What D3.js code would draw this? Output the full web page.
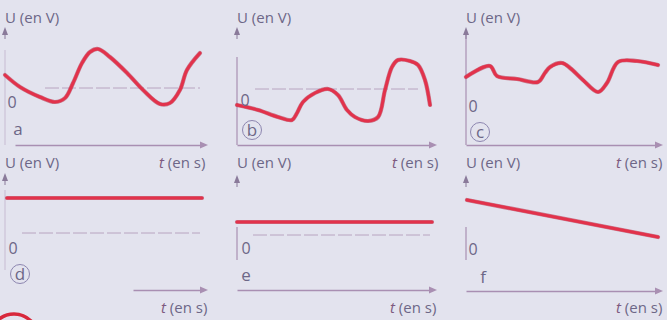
<!DOCTYPE html>
<html><head><meta charset="utf-8">
<script src="https://cdn.jsdelivr.net/npm/d3@7"></script>
<style>html,body{margin:0;padding:0;background:#e3e3ee;}svg{display:block;}</style>
</head><body>
<script>
// ---- data (t in arbitrary units 0..10, U in arbitrary volts) ----
const panelLetters = ["a", "b", "c", "d", "e", "f"];
const circledLetters = ["b", "c", "d"];
const yLabel = "U (en V)";
const xLabelT = "t";
const xLabelRest = " (en s)";
const zeroLabel = "0";

const tA = [0, 0.77, 1.79, 2.56, 3.08, 3.49, 3.95, 4.36, 4.77, 5.38, 6.26, 7.08, 7.95, 8.46, 8.97, 9.33, 10];
const uA = [1.3, 0.1, -0.9, -1.4, -1.0, 0.5, 2.5, 3.6, 3.9, 3.1, 1.5, -0.2, -1.6, -1.5, -0.2, 1.8, 3.5];

const tB = [0, 1.09, 2.12, 2.85, 3.11, 3.42, 4.04, 4.72, 5.23, 5.70, 6.11, 6.79, 7.31, 7.67, 8.03, 8.34, 8.96, 9.38, 9.74, 10];
const uB = [-1.6, -2.1, -2.8, -3.1, -2.4, -1.3, -0.4, 0, -0.6, -2.1, -2.8, -3.2, -2.8, -0.1, 2.2, 2.9, 2.8, 2.4, 0.9, -1.6];

const tC = [0, 1.25, 1.61, 2.66, 3.75, 4.11, 4.38, 5.0, 5.42, 6.09, 6.88, 7.34, 7.92, 8.91, 10];
const uC = [1.5, 2.6, 1.6, 1.3, 1.0, 1.9, 2.5, 2.9, 2.4, 1.2, 0, 0.9, 3.0, 3.1, 2.7];

const tD = [0, 10];
const uD = [3.5, 3.5];

const tE = [0, 10];
const uE = [1.3, 1.3];

const tF = [0, 10];
const uF = [4.0, 0.3];

const series = [[tA, uA], [tB, uB], [tC, uC], [tD, uD], [tE, uE], [tF, uF]];

// ---- layout (styles/positions) ----
const W = 667, H = 320;
const layout = [
  {x0: 5,   x1: 200, zeroY: 88,  axisX: 5,   yTop: 50, yBot: 145, xAxisY: 145, xaStart: 15,  xaEnd: 208, arrowY: 32,  dashFrom: 45,  dashTo: 200, dash: true,  curve: "smooth", ulY: 23,  tlX: 159, tlY: 168, zeroLX: 12,  zeroLY: 108, letX: 18,  letY: 135},
  {x0: 237, x1: 430, zeroY: 89,  axisX: 237, yTop: 57, yBot: 145, xAxisY: 145, xaStart: 237, xaEnd: 437, arrowY: 32,  dashFrom: 255, dashTo: 418, dash: true,  curve: "smooth", ulY: 23,  tlX: 392, tlY: 168, zeroLX: 245, zeroLY: 106, letX: 252, letY: 136},
  {x0: 466, x1: 658, zeroY: 92,  axisX: 466, yTop: 33, yBot: 145, xAxisY: 145, xaStart: 466, xaEnd: 663, arrowY: 32,  dashFrom: 0,   dashTo: 0,   dash: false, curve: "smooth", ulY: 23,  tlX: 616, tlY: 168, zeroLX: 473, zeroLY: 112, letX: 480, letY: 138},
  {x0: 7,   x1: 202, zeroY: 233, axisX: 5,   yTop: 190, yBot: 270, xAxisY: 290, xaStart: 133, xaEnd: 208, arrowY: 178, dashFrom: 22,  dashTo: 200, dash: true,  curve: "linear", ulY: 168, tlX: 161, tlY: 313, zeroLX: 13,  zeroLY: 254, letX: 20,  letY: 280},
  {x0: 237, x1: 432, zeroY: 235, axisX: 237, yTop: 227, yBot: 260, xAxisY: 290, xaStart: 237, xaEnd: 437, arrowY: 180, dashFrom: 253, dashTo: 430, dash: true,  curve: "linear", ulY: 168, tlX: 390, tlY: 313, zeroLX: 246, zeroLY: 254, letX: 246, letY: 281},
  {x0: 467, x1: 658, zeroY: 240, axisX: 466, yTop: 227, yBot: 260, xAxisY: 291, xaStart: 466, xaEnd: 663, arrowY: 180, dashFrom: 0,   dashTo: 0,   dash: false, curve: "linear", ulY: 168, tlX: 616, tlY: 313, zeroLX: 473, zeroLY: 255, letX: 483, letY: 283}
];

const textCol = "#6d6787";
const axisCol = "#a98fb2";
const redCol = "#e2324b";
const font = "'Open Sans', 'Noto Sans', sans-serif";

const svg = d3.select("body").append("svg").attr("width", W).attr("height", H);
svg.append("rect").attr("width", W).attr("height", H).attr("fill", "#e3e3ee");

layout.forEach((L, i) => {
  const [ts, us] = series[i];
  const pts = ts.map((t, k) => [t, us[k]]);
  const xs = d3.scaleLinear().domain([0, 10]).range([L.x0, L.x1]);
  const ys = d3.scaleLinear().domain([0, 1]).range([L.zeroY, L.zeroY - 10]);
  const g = svg.append("g");

  g.append("line").attr("x1", L.axisX).attr("x2", L.axisX).attr("y1", L.yTop).attr("y2", L.yBot)
    .attr("stroke", axisCol).attr("stroke-width", 1.3).attr("opacity", i === 0 || i === 3 ? 0.35 : 0.9);
  g.append("path")
    .attr("d", `M${L.axisX},${L.arrowY - 5} L${L.axisX - 3},${L.arrowY + 3} L${L.axisX + 3},${L.arrowY + 3} Z`)
    .attr("fill", "#8a7a9a");
  g.append("line").attr("x1", L.axisX).attr("x2", L.axisX).attr("y1", L.arrowY).attr("y2", L.arrowY + 7)
    .attr("stroke", "#8a7a9a").attr("stroke-width", 1);

  const xa = d3.scaleLinear().domain([0, 1]).range([L.xaStart, L.xaEnd - 6]);
  const ax = g.append("g").attr("transform", `translate(0,${L.xAxisY})`)
    .call(d3.axisBottom(xa).tickValues([]).tickSizeOuter(0));
  ax.select(".domain").attr("stroke", axisCol).attr("stroke-width", 1.6);
  g.append("path")
    .attr("d", `M${L.xaEnd},${L.xAxisY} L${L.xaEnd - 8},${L.xAxisY - 3.5} L${L.xaEnd - 8},${L.xAxisY + 3.5} Z`)
    .attr("fill", axisCol);

  if (L.dash) {
    g.append("line").attr("x1", L.dashFrom).attr("x2", L.dashTo).attr("y1", L.zeroY).attr("y2", L.zeroY)
      .attr("stroke", "#a88aae").attr("stroke-width", 1).attr("stroke-dasharray", "14,3").attr("opacity", 0.7);
  }

  const line = d3.line().x(d => xs(d[0])).y(d => ys(d[1]))
    .curve(L.curve === "smooth" ? d3.curveCatmullRom.alpha(0.5) : d3.curveLinear);
  g.append("path").datum(pts).attr("d", line).attr("fill", "none")
    .attr("stroke", "#b8304a").attr("stroke-width", 4.2).attr("stroke-linecap", "round").attr("stroke-linejoin", "round").attr("opacity", 0.6);
  g.append("path").datum(pts).attr("d", line).attr("fill", "none")
    .attr("stroke", redCol).attr("stroke-width", 3).attr("stroke-linecap", "round").attr("stroke-linejoin", "round");

  g.append("text").attr("x", L.axisX).attr("y", L.ulY).text(yLabel)
    .attr("font-family", font).attr("font-size", 15).attr("fill", textCol);
  const tl = g.append("text").attr("x", L.tlX).attr("y", L.tlY)
    .attr("font-family", font).attr("font-size", 15).attr("fill", textCol);
  tl.append("tspan").attr("font-style", "italic").attr("fill", "#7e5a80").text(xLabelT);
  tl.append("tspan").text(xLabelRest);

  g.append("text").attr("x", L.zeroLX).attr("y", L.zeroLY).text(zeroLabel)
    .attr("font-family", font).attr("font-size", 16).attr("fill", textCol).attr("text-anchor", "middle");

  const letter = panelLetters[i];
  g.append("text").attr("x", L.letX).attr("y", L.letY).text(letter)
    .attr("font-family", font).attr("font-size", 17).attr("fill", textCol).attr("text-anchor", "middle");
  if (circledLetters.includes(letter)) {
    g.append("circle").attr("cx", L.letX).attr("cy", L.letY - 6).attr("r", 9.5)
      .attr("fill", "none").attr("stroke", "#8d86b0").attr("stroke-width", 1);
  }
});

svg.append("circle").attr("cx", 14).attr("cy", 338).attr("r", 24)
  .attr("fill", "none").attr("stroke", "#d8283c").attr("stroke-width", 3.5);
</script>
</body></html>
